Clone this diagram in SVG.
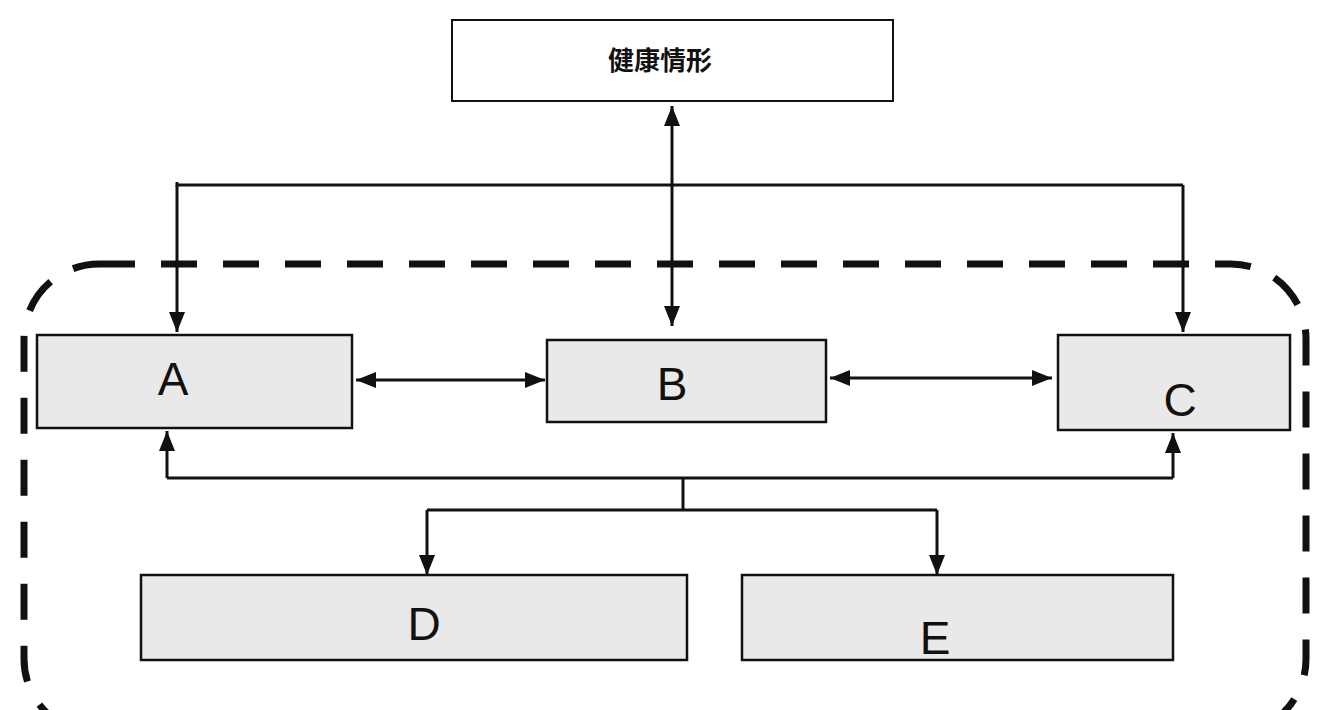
<svg xmlns="http://www.w3.org/2000/svg" width="1330" height="710" viewBox="0 0 1330 710">
<style>
.box{fill:#e9e9e9;stroke:#111;stroke-width:2.5}
.top{fill:#fff;stroke:#111;stroke-width:2}
.lbl{font-family:"Liberation Sans",Arial,sans-serif;font-size:46px;fill:#111;text-anchor:middle}
.cjk{font-family:"Noto Sans CJK TC","Noto Sans CJK SC",serif;font-size:26px;font-weight:bold;fill:#111;text-anchor:middle}
.ln{fill:none;stroke:#111;stroke-width:3}
</style>
<defs>
<marker id="ah" viewBox="0 0 10 10" refX="10" refY="5" markerWidth="20" markerHeight="20" orient="auto-start-reverse" markerUnits="userSpaceOnUse">
<path d="M0,1 L10,5 L0,9 z" fill="#111"/>
</marker>
</defs>
<rect width="1330" height="710" fill="#fff"/>
<rect x="24" y="264" width="1282" height="470" rx="75" fill="none" stroke="#111" stroke-width="7" stroke-dasharray="36,26"/>
<g id="connectors" class="ln">
<path d="M177,182 V185 H1183"/>
<path d="M177,185 V332" marker-end="url(#ah)"/>
<path d="M1183,185 V332" marker-end="url(#ah)"/>
<path d="M672,106 V326" marker-start="url(#ah)" marker-end="url(#ah)"/>
<path d="M356,380 H545" marker-start="url(#ah)" marker-end="url(#ah)"/>
<path d="M830,378 H1052" marker-start="url(#ah)" marker-end="url(#ah)"/>
<path d="M167,478 H1173"/>
<path d="M167,478 V431" marker-end="url(#ah)"/>
<path d="M1173,478 V433" marker-end="url(#ah)"/>
<path d="M683,478 V510"/>
<path d="M427,510 H937"/>
<path d="M427,510 V575" marker-end="url(#ah)"/>
<path d="M937,510 V575" marker-end="url(#ah)"/>
</g>
<g id="top"><rect class="top" x="452" y="20" width="441" height="81"/><text class="cjk" x="660" y="70">健康情形</text></g>
<g id="A"><rect class="box" x="37" y="335" width="315" height="93"/><text class="lbl" x="173" y="395">A</text></g>
<g id="B"><rect class="box" x="547" y="340" width="279" height="82"/><text class="lbl" x="672" y="400">B</text></g>
<g id="C"><rect class="box" x="1058" y="335" width="232" height="95"/><text class="lbl" x="1180" y="416">C</text></g>
<g id="D"><rect class="box" x="141" y="575" width="546" height="85"/><text class="lbl" x="424" y="640">D</text></g>
<g id="E"><rect class="box" x="742" y="575" width="431" height="85"/><text class="lbl" x="935" y="654">E</text></g>
</svg>
